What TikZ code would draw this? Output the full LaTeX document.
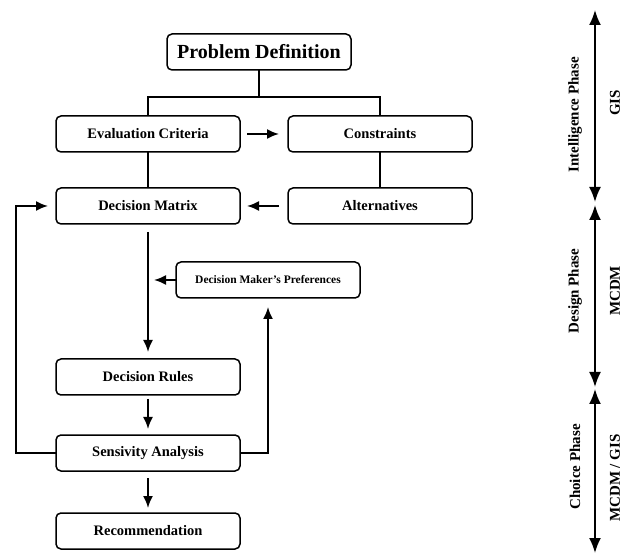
\documentclass[tikz,border=0pt]{standalone}
\usepackage{fontspec}
\setmainfont{Liberation Serif}
\usepackage{tikz}
\usetikzlibrary{arrows.meta, positioning}

\begin{document}
\begin{tikzpicture}[
  x=1pt, y=-1pt,
  node distance=36pt,
  box/.style={rectangle, rounded corners=5pt, draw, line width=1.5pt, outer sep=0pt, minimum width=184pt, minimum height=36pt, font=\fontsize{14.5}{17}\selectfont\bfseries},
  title/.style={box, font=\fontsize{20}{24}\selectfont\bfseries},
  small/.style={box, font=\fontsize{11.5}{13}\selectfont\bfseries},
  link/.style={line width=1.8pt},
  arrow/.style={-{Latex[length=12pt,width=10pt]}, line width=1.8pt},
  phase/.style={{Latex[length=15pt,width=12pt]}-{Latex[length=15pt,width=12pt]}, line width=1.8pt},
  tag/.style={rotate=90, font=\fontsize{15}{17}\selectfont\bfseries}
]
\useasboundingbox (0,0) rectangle (630,556);

% main flow
\node[title] (pd) at (259,52) {Problem Definition};
\node[box, below=46pt of pd, xshift=-111pt] (ec) {Evaluation Criteria};
\node[box, right=48pt of ec] (con) {Constraints};
\node[box, below=of ec] (dm) {Decision Matrix};
\node[box, right=48pt of dm] (alt) {Alternatives};
\node[small, below=38pt of dm, xshift=120pt] (dmp) {Decision Maker's Preferences};
\node[box, below=135pt of dm] (dr) {Decision Rules};
\node[box, below=40pt of dr] (sa) {Sensivity Analysis};
\node[box, below=42pt of sa] (rec) {Recommendation};

\draw[link] (pd.south) -- ++(0,27) coordinate (split);
\draw[link] (split) -| (ec.north);
\draw[link] (split) -| (con.north);
\draw[link] (ec) -- (dm);
\draw[link] (con) -- (alt);
\draw[arrow, shorten <=7pt, shorten >=9pt] (ec) -- (con);
\draw[arrow, shorten <=9pt, shorten >=7pt] (alt) -- (dm);
\draw[arrow, shorten <=8pt, shorten >=7pt] (dm) -- (dr);
\draw[arrow, shorten >=6pt] (dmp.west) -- (dmp.west -| dm.south);
\draw[arrow, shorten <=4pt, shorten >=6pt] (dr) -- (sa);
\draw[arrow, shorten <=7pt, shorten >=5pt] (sa) -- (rec);

% feedback loops
\draw[arrow, shorten >=8pt] (sa.west) -- ++(-40,0) |- (dm.west);
\draw[arrow, shorten >=9pt] (sa.east) -| (dmp.south);

% phases
\coordinate (ax1) at (595,10);
\coordinate (ax2) at (595,202);
\coordinate (ax3) at (595,205);
\coordinate (ax4) at (595,387);
\coordinate (ax5) at (595,389);
\coordinate (ax6) at (595,553);
\draw[phase] (ax1) -- (ax2);
\draw[phase] (ax3) -- (ax4);
\draw[phase] (ax5) -- (ax6);

\node[tag] (intel) at (575,115) {Intelligence Phase};
\node[tag] (gis) at (615,103) {GIS};
\node[tag] (design) at (575,291) {Design Phase};
\node[tag] (mcdm) at (615,291) {MCDM};
\node[tag] (choice) at (575,467) {Choice Phase};
\node[tag] (both) at (615,478) {MCDM / GIS};
\end{tikzpicture}
\end{document}
